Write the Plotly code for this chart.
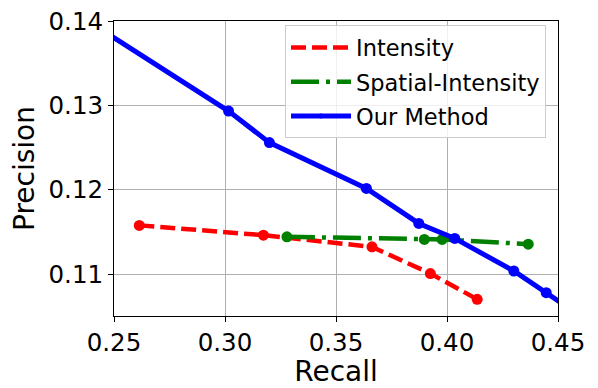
import plotly.graph_objects as go

# Precision/Recall-Werte
intensity_recall = [0.2614, 0.3173, 0.3662, 0.3925, 0.4136]
intensity_prec = [0.1158, 0.11464, 0.11326, 0.1101, 0.10705]

spatial_recall = [0.3279, 0.3898, 0.3978, 0.4366]
spatial_prec = [0.11444, 0.11414, 0.11414, 0.11358]

# erster und letzter Punkt liegen ausserhalb des sichtbaren Bereichs
ours_recall = [0.24, 0.3016, 0.3200, 0.3637, 0.3873, 0.4035, 0.4301, 0.4447, 0.46]
ours_prec = [0.1397, 0.12934, 0.1256, 0.12017, 0.11603, 0.11426, 0.1104, 0.10783, 0.1051]

y_ticks = [0.11, 0.12, 0.13, 0.14]
x_ticks = [0.25, 0.30, 0.35, 0.40, 0.45]

FONT = "DejaVu Sans"

series = [
    ('Intensity', intensity_recall, intensity_prec, '#ff0000', 4.5, '15px,6px'),
    ('Spatial-Intensity', spatial_recall, spatial_prec, '#008000', 4.5, '28px,7px,4px,7px'),
    ('Our Method', ours_recall, ours_prec, '#0000ff', 5, 'solid'),
]

fig = go.Figure()

for name, xs, ys, color, lw, dash in series:
    fig.add_trace(go.Scatter(
        x=xs, y=ys, mode='lines+markers', name=name,
        line=dict(color=color, width=lw, dash=dash),
        marker=dict(size=11, color=color),
        showlegend=False,
    ))

# Legende wie matplotlib: nur Linie, bei "Our Method" kleiner Punkt
for name, xs, ys, color, lw, dash in series:
    solid = dash == 'solid'
    fig.add_trace(go.Scatter(
        x=[None], y=[None], mode='lines+markers' if solid else 'lines', name=name,
        line=dict(color=color, width=lw, dash=dash),
        marker=dict(size=5, color=color),
        legendgroup=name,
    ))

axis_common = dict(
    showline=True, linecolor='black', linewidth=1, mirror=True,
    ticks='outside', ticklen=5, tickwidth=1, tickcolor='black',
    showgrid=True, gridcolor='#b0b0b0', gridwidth=1,
    zeroline=False, automargin=False, ticklabeloverflow='allow',
    tickfont=dict(family=FONT, size=24.5, color='black'),
    tickmode='array',
)

# Seite hat 8px Body-Rand -> Figur etwas kleiner
fig.update_layout(
    width=590, height=380,
    margin=dict(l=106, r=40, t=13, b=72),
    paper_bgcolor='white', plot_bgcolor='white',
    font=dict(family=FONT, color='black'),
    showlegend=True,
    legend=dict(
        x=0.973, y=0.985, xanchor='right', yanchor='top',
        bgcolor='rgba(255,255,255,0.8)', bordercolor='#cccccc', borderwidth=1,
        font=dict(family=FONT, size=22.5, color='black'),
        tracegroupgap=2, itemwidth=60,
    ),
    xaxis=dict(
        axis_common,
        range=[0.25, 0.45],
        tickvals=x_ticks, ticktext=[f"{v:.2f}" for v in x_ticks],
        title=dict(text='Recall', font=dict(family=FONT, size=28)),
    ),
    yaxis=dict(
        axis_common,
        range=[0.10507, 0.14],
        tickvals=y_ticks, ticktext=[f"{v:.2f}" for v in y_ticks],
        title=dict(text='Precision', font=dict(family=FONT, size=28)),
    ),
)

fig.write_html("out.html")
